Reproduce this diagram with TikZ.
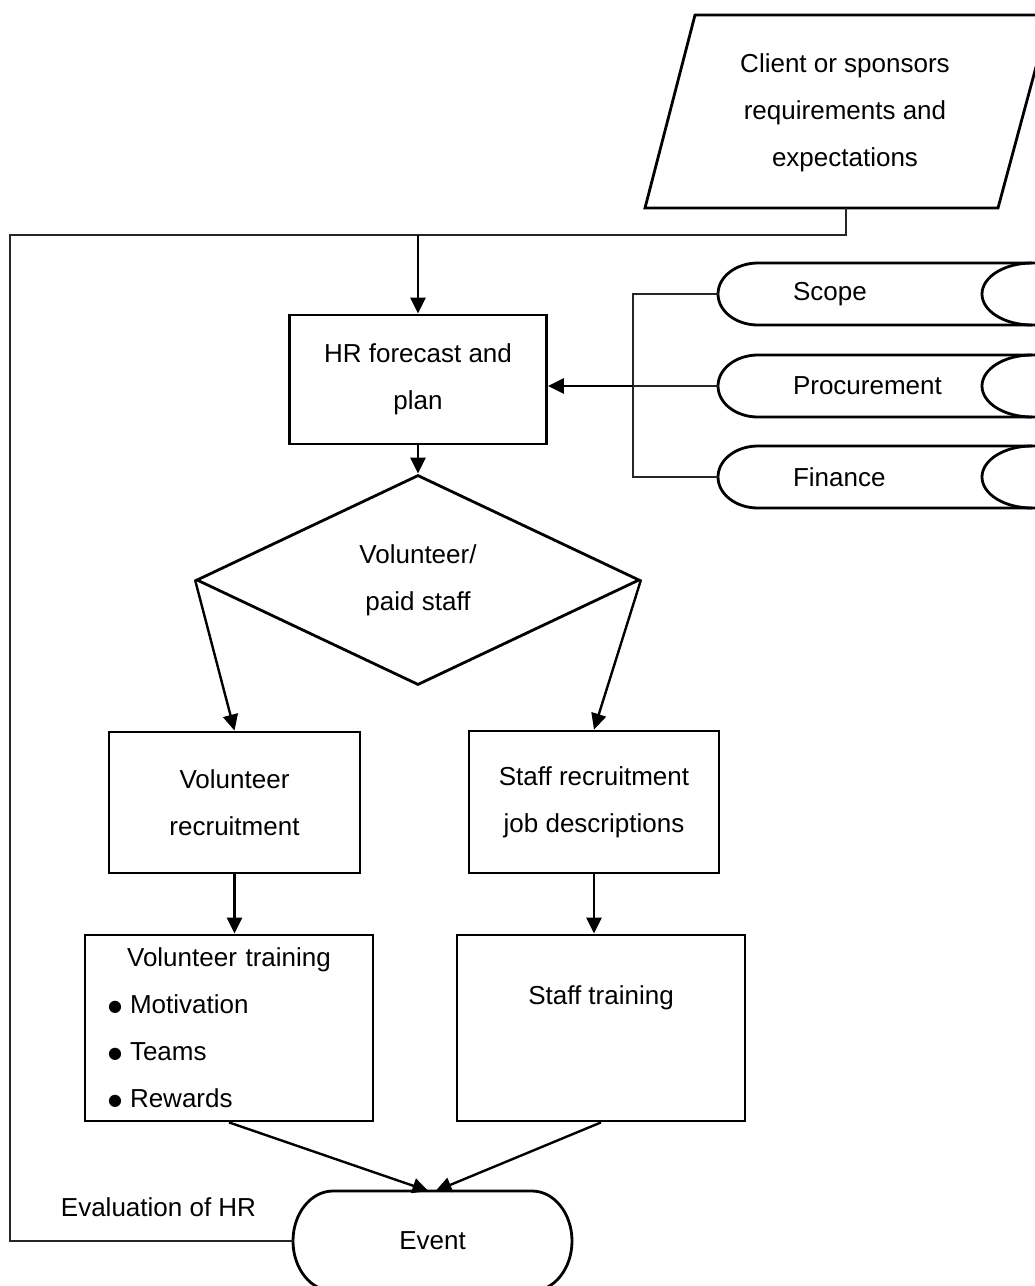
\documentclass[tikz,border=0pt]{standalone}
\usepackage{fontspec}
\setmainfont{Liberation Sans}
\newfontfamily\bulletfont{DejaVu Sans}
\usetikzlibrary{arrows.meta,shapes.geometric}

\tikzset{
  box/.style={draw,rectangle,align=center,inner sep=0pt},
  store/.style={anchor=west,minimum height=62pt,text width=170pt,inner xsep=75pt,inner ysep=0pt,outer sep=0pt,align=left},
  conn/.style={line width=1.4pt,draw=black!85},
  arr/.style={line width=2.4pt,-{Triangle[length=16pt,width=15pt]}},
}
\newcommand{\bul}{\makebox[22pt][l]{\raisebox{2.5pt}{\bulletfont\fontsize{16}{16}\selectfont ●}}}

\begin{document}
\begin{tikzpicture}[x=1pt,y=-1pt,line width=2.8pt,font=\fontsize{26}{47}\selectfont]
\useasboundingbox (0,0) rectangle (1035,1286);
\clip (0,0) rectangle (1035,1286);
% client input
\draw (695,15)--(1050,15)--(998,208)--(645,208)--cycle;
\node[align=center] (client) at (845,113) {Client or sponsors\\requirements and\\expectations};
\coordinate (clout) at (846,208);
\coordinate (clbend) at (846,235);
\coordinate (topleft) at (10,235);
\coordinate (botleft) at (10,1241);
% main boxes
\node[box,minimum width=257pt,minimum height=129pt] (hr) at (418,379.5) {HR forecast and\\plan};
\node[diamond,draw,shape aspect=2.1,minimum width=443pt,minimum height=210pt,inner sep=0pt,align=center] (dec) at (418,580) {Volunteer/\\paid staff};
\node[box,minimum width=251pt,minimum height=141pt] (volrec) at (234.5,802.5) {Volunteer\\recruitment};
\node[box,minimum width=250pt,minimum height=142pt] (staffrec) at (594,802) {Staff recruitment\\job descriptions};
\node[box,minimum width=288pt,minimum height=186pt,text width=242pt,inner xsep=23pt,align=left] (voltr) at (229,1028)
  {\hbox to\hsize{\hss Volunteer training\hss}\\\bul Motivation\\\bul Teams\\\bul Rewards};
\node[box,minimum width=288pt,minimum height=186pt] (stafftr) at (601,1028) {};
\node (stafftrtext) at ([yshift=-64pt]stafftr.north) {Staff training};
% event
\node[minimum width=279pt,minimum height=100pt,inner sep=0pt,outer sep=0pt] (event) at (432.5,1241) {Event};
\draw ([xshift=40pt]event.north west)--([xshift=-40pt]event.north east)
  arc[start angle=90,end angle=-90,x radius=40pt,y radius=50pt]--([xshift=40pt]event.south west)
  arc[start angle=270,end angle=90,x radius=40pt,y radius=50pt]--cycle;
\node (evalhr) at (158.5,1207) {Evaluation of HR};
% stored inputs
\node[store] (scope) at (718,294) {Scope};
\draw (scope.north east)--([xshift=40pt]scope.north west) arc[start angle=90,end angle=270,x radius=40pt,y radius=31pt]--(scope.south east);
\draw ([xshift=-6pt]scope.north east) arc[start angle=90,end angle=270,x radius=50pt,y radius=31pt];
\node[store] (procurement) at (718,386) {Procurement};
\draw (procurement.north east)--([xshift=40pt]procurement.north west) arc[start angle=90,end angle=270,x radius=40pt,y radius=31pt]--(procurement.south east);
\draw ([xshift=-6pt]procurement.north east) arc[start angle=90,end angle=270,x radius=50pt,y radius=31pt];
\node[store] (finance) at (718,477) {Finance};
\draw (finance.north east)--([xshift=40pt]finance.north west) arc[start angle=90,end angle=270,x radius=40pt,y radius=31pt]--(finance.south east);
\draw ([xshift=-6pt]finance.north east) arc[start angle=90,end angle=270,x radius=50pt,y radius=31pt];
% connectors
\coordinate (jn) at (633,386);
\draw[conn] (scope.west)-|(jn)|-(finance.west);
\draw[conn] (procurement.west)--(jn);
\draw[arr] (jn)--(jn-|hr.east);
\draw[conn] (clout)--(clbend)--(topleft)--(botleft)--(event.west);
\draw[arr] (hr.north|-clbend)--(hr.north);
\draw[arr] (hr.south)--(dec.north);
\draw[arr] (dec.west)--(volrec.north);
\draw[arr] (dec.east)--(staffrec.north);
\draw[arr] (volrec.south)--(volrec.south|-voltr.north);
\draw[arr] (staffrec.south)--(staffrec.south|-stafftr.north);
\draw[arr] (voltr.south)--([xshift=-4pt]event.north);
\draw[arr] (stafftr.south)--([xshift=3pt]event.north);
\end{tikzpicture}
\end{document}
